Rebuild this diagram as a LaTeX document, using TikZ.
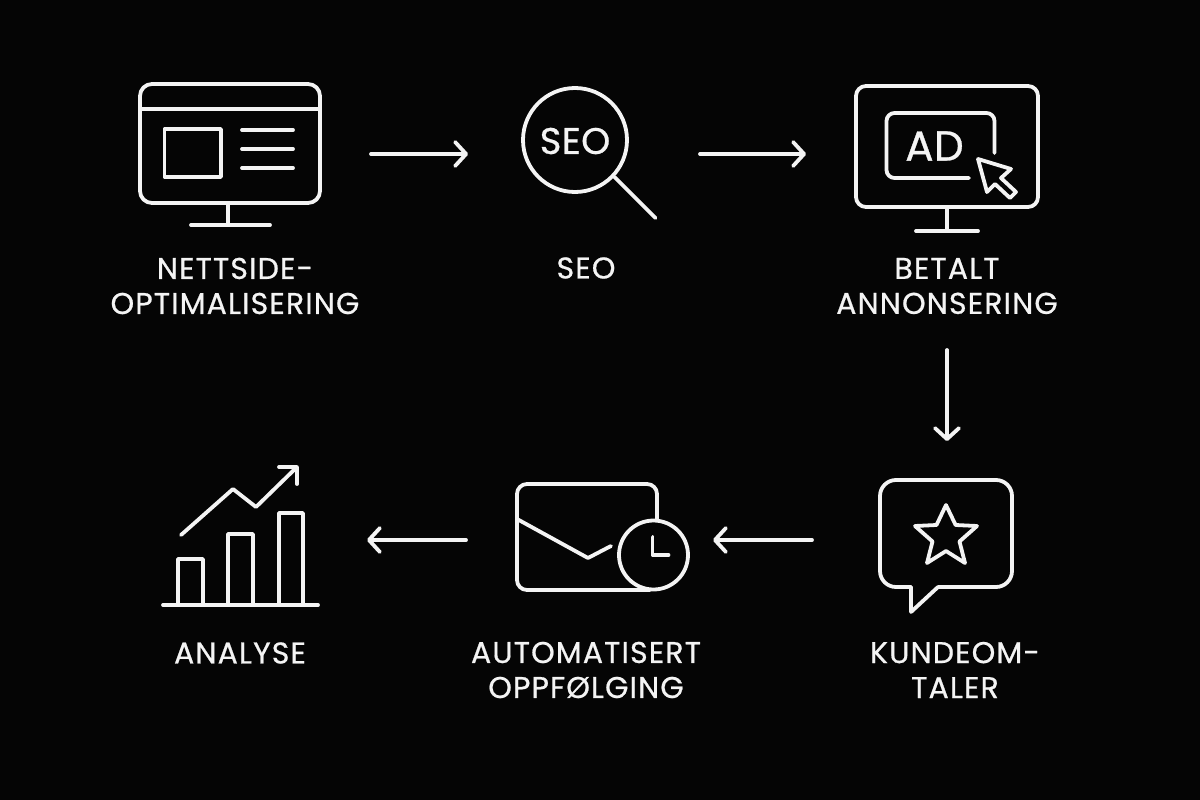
\documentclass[tikz,border=0pt]{standalone}
\usepackage{fontspec}
\setmainfont{Poppins}[LetterSpace=3.8,FakeBold=0.7]
\newfontfamily\iconfont{Poppins}[FakeBold=0.7,LetterSpace=1]
\usetikzlibrary{arrows.meta}
\tikzset{
  ln/.style={draw=fg,line width=3.8pt,line cap=round,line join=round},
  flow/.style={ln,-{Straight Barb[length=11pt,width=24pt,line width=3.8pt,round]}},
  icon/.style={inner sep=0pt,outer sep=0pt,minimum width=#1},
  lbl/.style={text=fg,align=center,font=\fontsize{30}{35}\selectfont,inner sep=0pt},
  glyph/.style={text=fg,inner sep=0pt}
}
\definecolor{fg}{HTML}{F4F4F4}
\definecolor{bg}{HTML}{050505}
\begin{document}
\begin{tikzpicture}[x=1pt,y=-1pt]
\path[fill=bg] (0,0) rectangle (1200,800);
\useasboundingbox (0,0) rectangle (1200,800);
% invisible icon frames, used as connector ends
\node[icon=180pt,minimum height=140pt] (web) at (230,154) {};
\node[icon=134pt,minimum height=130pt] (seo) at (589,154) {};
\node[icon=182pt,minimum height=156pt] (ad) at (947,154) {};
\node[icon=132pt,minimum height=120pt] (review) at (947,540) {};
\node[icon=171pt,minimum height=112pt] (mail) at (602.5,540) {};
\node[icon=155pt,minimum height=130pt] (chart) at (240.5,540) {};
% website monitor
\draw[ln,rounded corners=12pt] (140,84) rectangle (320,203);
\draw[ln] (140,109) -- (320,109);
\draw[ln] (164.5,129) rectangle (221,177);
\draw[ln] (242,130) -- (293,130) (242,149) -- (293,149) (242,168) -- (293,168);
\draw[ln] (228,203) -- (228,225) (191,225) -- (270,225);
% magnifier
\draw[ln] (575,140) circle (52);
\draw[ln] (614.5,177) -- (655.5,218);
\node[glyph,font=\iconfont\fontsize{37}{37}\selectfont] (seotxt) at (575,141) {SEO};
% ad monitor
\draw[ln,rounded corners=10pt] (856,86) rectangle (1038,207);
\draw[ln] (947,207) -- (947,231) (916,231) -- (978,231);
\draw[ln,rounded corners=8pt] (994.5,153) -- (994.5,113) -- (886.5,113) -- (886.5,178) -- (969,178);
\node[glyph,font=\iconfont\fontsize{42}{42}\selectfont] (adtxt) at (934.5,146) {AD};
\draw[ln] (978,159) -- (1011,169) -- (1001,178) -- (1016,192) -- (1010,198) -- (995,184) -- (987,192) -- cycle;
% speech bubble
\draw[ln,rounded corners=16pt] (911,587) -- (880,587) -- (880,480) -- (1012,480) -- (1012,587) -- (938,587);
\draw[ln] (911,587) -- (911,612) -- (938,587);
\draw[ln] (946,505) -- (955.6,525) -- (977,526) -- (959.5,541.5) -- (965,563) -- (946,551) -- (927,563) -- (932.5,541.5) -- (915,526) -- (936.5,525) -- cycle;
% envelope with clock
\draw[ln,rounded corners=10pt] (657,520) -- (657,484) -- (517,484) -- (517,590) -- (650,590);
\draw[ln] (517,519) -- (588,558) -- (611,546);
\draw[ln] (653.5,555) circle (34.5);
\draw[ln] (652.5,537) -- (652.5,555) -- (668.5,555);
% chart
\draw[ln] (163,605) -- (318,605);
\draw[ln] (178,605) -- (178,559) -- (203,559) -- (203,605);
\draw[ln] (228,605) -- (228,534) -- (253,534) -- (253,605);
\draw[ln] (279,605) -- (279,513) -- (303,513) -- (303,605);
\draw[ln] (181,535) -- (233,489) -- (256,507) -- (297,467);
\draw[ln] (279,467) -- (297,467) -- (297,484);
% labels
\node[lbl] (l1) at (235,286) {NETTSIDE-\\OPTIMALISERING};
\node[lbl] (l2) at (586,268) {SEO};
\node[lbl] (l3) at (947,286) {BETALT\\ANNONSERING};
\node[lbl] (l4) at (955,670) {KUNDEOM-\\TALER};
\node[lbl] (l5) at (586,670) {AUTOMATISERT\\OPPFØLGING};
\node[lbl] (l6) at (240,653) {ANALYSE};
% connectors
\draw[flow,shorten <=51pt,shorten >=54pt] (web.east) -- (seo.west);
\draw[flow,shorten <=44pt,shorten >=50pt] (seo.east) -- (ad.west);
\draw[flow,shorten <=118pt,shorten >=39pt] (ad.south) -- (review.north);
\draw[flow,shorten <=69pt,shorten >=25pt] (review.west) -- (mail.east);
\draw[flow,shorten <=51pt,shorten >=49pt] (mail.west) -- (chart.east);
\end{tikzpicture}
\end{document}
